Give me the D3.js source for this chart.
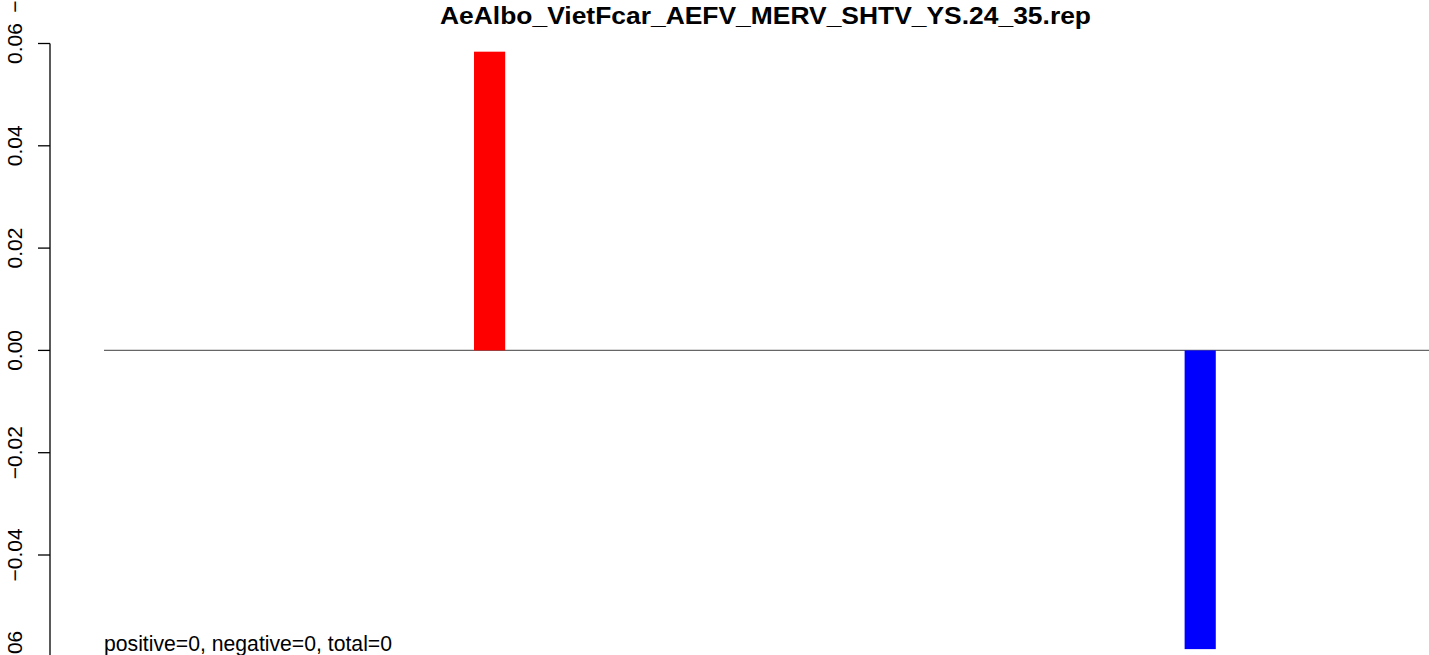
<!DOCTYPE html>
<html>
<head>
<meta charset="utf-8">
<script src="https://cdn.jsdelivr.net/npm/d3@7"></script>
<style>
  html, body { margin: 0; padding: 0; background: #fff; }
  svg { display: block; font-family: "Liberation Sans", Arial, Helvetica, sans-serif; }
</style>
</head>
<body>
<svg id="chart" width="1429" height="655"></svg>
<script>
// ---- data ----
const title = "AeAlbo_VietFcar_AEFV_MERV_SHTV_YS.24_35.rep";
const footText = "positive=0, negative=0, total=0";
const slotCount = 36;                 // bar slots along the x axis
const barSlots = [10, 29];            // slot index of each visible bar
const barValues = [0.0584, -0.0584];  // bar heights
const barColors = ["#ff0000", "#0000ff"];
const yTicks = [-0.06, -0.04, -0.02, 0.00, 0.02, 0.04, 0.06];
const yTickLabels = ["\u22120.06", "\u22120.04", "\u22120.02", "0.00", "0.02", "0.04", "0.06"];

// ---- layout ----
const W = 1429, H = 655;
const axisX = 50;
const svg = d3.select("#chart");

const y = d3.scaleLinear().domain([-0.06, 0.06]).range([657.3, 43.5]);
const x = d3.scaleBand()
  .domain(d3.range(slotCount))
  .range([96.9, 1443.3])
  .paddingInner(1 / 6)
  .paddingOuter(1 / 12);

// zero reference line
svg.append("line")
  .attr("x1", 104).attr("x2", W)
  .attr("y1", y(0)).attr("y2", y(0))
  .attr("stroke", "#666").attr("stroke-width", 1.2);

// bars
const bars = barSlots.map((s, i) => ({ slot: s, v: barValues[i], c: barColors[i] }));
svg.selectAll("rect.bar").data(bars).enter().append("rect")
  .attr("class", "bar")
  .attr("x", d => x(d.slot))
  .attr("width", x.bandwidth())
  .attr("y", d => y(Math.max(0, d.v)))
  .attr("height", d => Math.abs(y(d.v) - y(0)))
  .attr("fill", d => d.c);

// y axis
const axis = svg.append("g");
axis.append("line")
  .attr("x1", axisX).attr("x2", axisX)
  .attr("y1", y(0.06)).attr("y2", y(-0.06))
  .attr("stroke", "#000").attr("stroke-width", 1.3);
axis.selectAll("line.tick").data(yTicks).enter().append("line")
  .attr("class", "tick")
  .attr("x1", axisX - 12).attr("x2", axisX)
  .attr("y1", d => y(d)).attr("y2", d => y(d))
  .attr("stroke", "#000").attr("stroke-width", 1.3);
axis.selectAll("text.tl").data(yTicks).enter().append("text")
  .attr("class", "tl")
  .attr("transform", d => `translate(22,${y(d)}) rotate(-90)`)
  .attr("text-anchor", "middle")
  .attr("font-size", 21)
  .attr("fill", "#000")
  .text((d, i) => yTickLabels[i]);

// cut-off label from the panel above (same axis, one panel higher)
svg.append("text")
  .attr("transform", `translate(22,${y(-0.06) - 671}) rotate(-90)`)
  .attr("text-anchor", "middle")
  .attr("font-size", 21)
  .attr("fill", "#000")
  .text(yTickLabels[0]);

// title
svg.append("text")
  .attr("x", 440).attr("y", 24)
  .attr("font-size", 23).attr("font-weight", "bold")
  .attr("textLength", 651).attr("lengthAdjust", "spacingAndGlyphs")
  .attr("fill", "#000")
  .text(title);

// footer text
svg.append("text")
  .attr("x", 104).attr("y", 651)
  .attr("font-size", 22)
  .attr("textLength", 288).attr("lengthAdjust", "spacingAndGlyphs")
  .attr("fill", "#000")
  .text(footText);
</script>
</body>
</html>
